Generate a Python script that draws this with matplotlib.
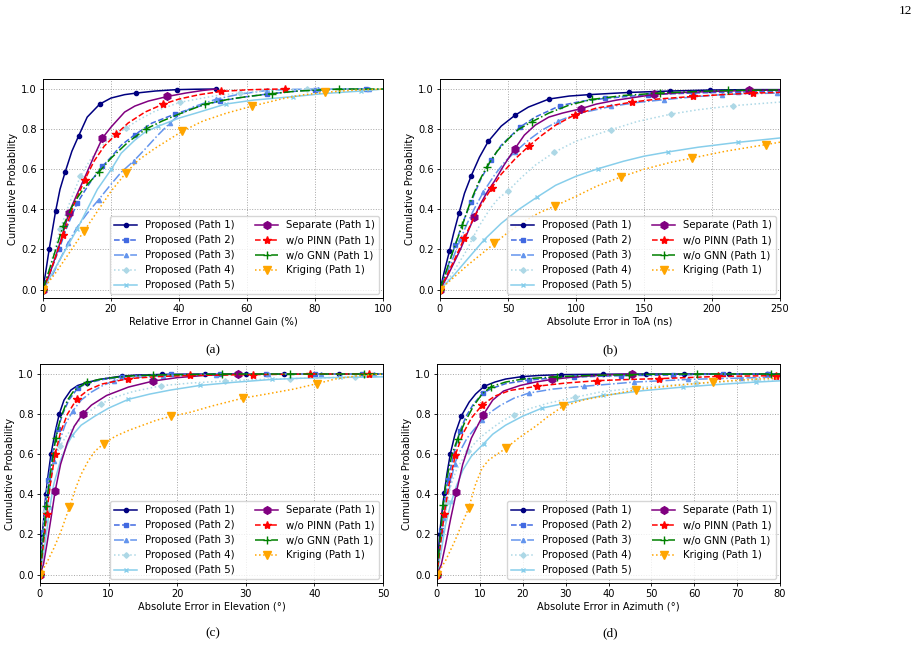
import matplotlib
matplotlib.use("Agg")
import matplotlib.pyplot as plt
from matplotlib.lines import Line2D

plt.rcParams['font.family'] = ['DejaVu Sans']
FS = 7.1
LEG_FS = 7.25

LABELS = ["Proposed (Path 1)", "Proposed (Path 2)", "Proposed (Path 3)",
          "Proposed (Path 4)", "Proposed (Path 5)", "Separate (Path 1)",
          "w/o PINN (Path 1)", "w/o GNN (Path 1)", "Kriging (Path 1)"]

# ---------------- panel (a): relative error in channel gain (%) ----------------
A_P1 = ([0, 1.0, 1.8, 2.8, 3.7, 5.0, 6.5, 8.5, 10.5, 13.0, 16.7, 20.0, 24.0, 27.5, 33.0, 39.3, 45.0, 51.0],
        [0, 0.11, 0.20, 0.30, 0.39, 0.50, 0.585, 0.69, 0.767, 0.86, 0.925, 0.955, 0.972, 0.98, 0.99, 0.997, 0.999, 1.0])
A_P1_MK = ([0, 1.8, 3.7, 6.5, 10.5, 16.7, 27.5, 39.3, 51.0], [0, 0.2, 0.39, 0.585, 0.767, 0.925, 0.98, 0.997, 1.0])
A_P2 = ([0, 2, 4.7, 7, 10, 12, 14.5, 17.5, 20, 23, 27, 32, 38.8, 45, 52, 59, 66, 73, 80, 88, 95],
        [0, 0.08, 0.2, 0.31, 0.43, 0.485, 0.55, 0.615, 0.66, 0.72, 0.772, 0.83, 0.875, 0.91, 0.94, 0.96, 0.975, 0.987, 0.997, 0.999, 1.0])
A_P2_MK = ([0, 4.7, 10, 17.5, 27, 38.8, 52, 66, 80, 95], [0, 0.2, 0.43, 0.615, 0.772, 0.875, 0.94, 0.975, 0.997, 1.0])
A_P3 = ([0, 3, 5, 7.4, 10, 13, 16.4, 20, 23, 26.8, 30, 33.5, 37.3, 40, 44, 51, 58, 66, 73, 81, 90, 96],
        [0, 0.08, 0.15, 0.233, 0.31, 0.38, 0.449, 0.525, 0.585, 0.643, 0.7, 0.765, 0.83, 0.87, 0.91, 0.95, 0.975, 0.993, 0.998, 1.0, 1.0, 1.0])
A_P3_MK = ([0, 7.4, 16.4, 26.8, 37.3, 51, 66, 81, 96], [0, 0.233, 0.449, 0.643, 0.83, 0.95, 0.993, 1.0, 1.0])
A_P4 = ([0, 2, 5, 8, 11, 14, 17, 20, 24.4, 28, 33, 40.3, 47, 52, 58, 65, 71, 77.6, 85, 90],
        [0, 0.11, 0.3, 0.44, 0.565, 0.65, 0.71, 0.76, 0.805, 0.845, 0.89, 0.934, 0.955, 0.97, 0.98, 0.99, 0.996, 1.0, 1.0, 1.0])
A_P4_MK = ([0, 5, 11, 24.4, 40.3, 58, 77.6], [0, 0.3, 0.565, 0.805, 0.934, 0.98, 1.0])
A_P5 = ([0, 3, 6, 10, 13, 16, 20.1, 23, 27, 30, 33.8, 40, 45, 53.7, 62, 73.5, 83, 93.5, 100],
        [0, 0.09, 0.18, 0.3, 0.4, 0.5, 0.6, 0.68, 0.745, 0.785, 0.814, 0.855, 0.88, 0.925, 0.945, 0.962, 0.978, 0.99, 1.0])
A_P5_MK = ([0, 10, 20.1, 33.8, 53.7, 73.5, 93.5], [0, 0.3, 0.6, 0.814, 0.925, 0.962, 0.99])
A_SEP = ([0, 2, 4, 5.5, 7.6, 10, 12.7, 15, 17.5, 20, 24, 27, 31, 36.6, 42, 47, 51],
         [0, 0.08, 0.18, 0.26, 0.382, 0.475, 0.575, 0.665, 0.756, 0.81, 0.885, 0.915, 0.94, 0.963, 0.98, 0.993, 1.0])
A_SEP_MK = ([0, 7.6, 17.5, 36.6], [0, 0.382, 0.756, 0.963])
A_PINN = ([0, 3, 6, 9, 12.3, 15, 18, 21.6, 25, 30, 35.4, 40, 46, 52.4, 60, 66, 71.2],
          [0, 0.13, 0.274, 0.42, 0.548, 0.64, 0.715, 0.776, 0.83, 0.885, 0.925, 0.95, 0.972, 0.988, 0.996, 0.999, 1.0])
A_PINN_MK = ([0, 6, 12.3, 21.6, 35.4, 52.4, 71.2], [0, 0.274, 0.548, 0.776, 0.925, 0.988, 1.0])
A_GNN = ([0, 3, 5.9, 9, 12, 16.4, 20, 25, 30.2, 35, 40, 47.7, 55, 60, 67.3, 75, 87.2, 100],
         [0, 0.16, 0.316, 0.43, 0.505, 0.585, 0.655, 0.735, 0.8, 0.84, 0.875, 0.925, 0.95, 0.962, 0.977, 0.99, 1.0, 1.0])
A_GNN_MK = ([0, 5.9, 16.4, 30.2, 47.7, 67.3, 87.2], [0, 0.316, 0.585, 0.8, 0.925, 0.977, 1.0])
A_KRG = ([0, 4, 8, 12, 16, 20, 24.3, 28, 33, 41, 47, 54, 61.4, 70, 76, 82.8, 90, 100],
         [0, 0.09, 0.19, 0.29, 0.39, 0.49, 0.58, 0.645, 0.705, 0.79, 0.84, 0.88, 0.914, 0.95, 0.97, 0.983, 0.993, 1.0])
A_KRG_MK = ([0, 12, 24.3, 41, 61.4, 82.8], [0, 0.29, 0.58, 0.79, 0.914, 0.983])

# ---------------- panel (b): absolute error in ToA (ns) ----------------
B_P1 = ([0, 3, 6.9, 10, 14, 18, 23, 29, 35.5, 45, 55.1, 65, 80.1, 95, 109.6, 139, 169, 198.5, 228, 250],
        [0, 0.085, 0.191, 0.28, 0.382, 0.48, 0.568, 0.66, 0.739, 0.815, 0.869, 0.91, 0.95, 0.965, 0.972, 0.983, 0.99, 0.995, 0.997, 0.997])
B_P1_MK = ([0, 6.9, 14, 23, 35.5, 55.1, 80.1, 109.6, 139, 169, 198.5, 228],
           [0, 0.191, 0.382, 0.568, 0.739, 0.869, 0.95, 0.972, 0.983, 0.99, 0.995, 0.997])
B_P2 = ([0, 5, 11, 16, 22.8, 30, 37.5, 45, 58.8, 70, 88.2, 105, 121, 153, 186, 219, 250],
        [0, 0.1, 0.22, 0.32, 0.437, 0.55, 0.644, 0.72, 0.81, 0.86, 0.917, 0.94, 0.953, 0.972, 0.98, 0.985, 0.988])
B_P2_MK = ([0, 11, 22.8, 37.5, 58.8, 88.2, 121, 153, 186, 219], [0, 0.22, 0.437, 0.644, 0.81, 0.917, 0.953, 0.972, 0.98, 0.985])
B_P3 = ([0, 5, 10, 15, 20, 25, 31.9, 40, 48, 55, 65, 75, 87, 100, 125.5, 145, 165, 185, 207, 228, 250],
        [0, 0.08, 0.165, 0.25, 0.33, 0.4, 0.487, 0.57, 0.64, 0.685, 0.745, 0.795, 0.84, 0.875, 0.913, 0.933, 0.947, 0.96, 0.972, 0.977, 0.98])
B_P3_MK = ([0, 15, 31.9, 55, 87, 125.5, 165, 207, 248], [0, 0.25, 0.487, 0.685, 0.84, 0.913, 0.947, 0.972, 0.98])
B_P4 = ([0, 5, 10, 15, 20, 24, 30, 37, 43, 50.2, 60, 70, 83.8, 100, 125.7, 145, 169.9, 190, 215.7, 250],
        [0, 0.04, 0.09, 0.145, 0.2, 0.257, 0.33, 0.405, 0.455, 0.493, 0.56, 0.62, 0.684, 0.74, 0.797, 0.838, 0.875, 0.897, 0.917, 0.935])
B_P4_MK = ([0, 24, 50.2, 83.8, 125.7, 169.9, 215.7], [0, 0.257, 0.493, 0.684, 0.797, 0.875, 0.917])
B_P5 = ([0, 10, 20, 32.6, 45, 58, 71.6, 85, 100, 116.4, 135, 150, 167.4, 190, 218.9, 250],
        [0, 0.07, 0.15, 0.249, 0.33, 0.4, 0.462, 0.52, 0.565, 0.603, 0.64, 0.665, 0.686, 0.71, 0.734, 0.756])
B_P5_MK = ([0, 32.6, 71.6, 116.4, 167.4, 218.9], [0, 0.249, 0.462, 0.603, 0.686, 0.734])
B_SEP = ([0, 5, 10, 15, 20, 25.2, 30, 35, 40, 47, 55.1, 62, 70, 80, 90, 103.7, 115, 130, 157.6, 180, 200, 227, 250],
         [0, 0.06, 0.13, 0.2, 0.28, 0.362, 0.43, 0.49, 0.54, 0.62, 0.703, 0.77, 0.82, 0.86, 0.88, 0.902, 0.925, 0.945, 0.973, 0.983, 0.988, 0.993, 0.995])
B_SEP_MK = ([0, 25.2, 55.1, 103.7, 157.6, 227], [0, 0.362, 0.703, 0.902, 0.973, 0.993])
B_PINN = ([0, 5, 10, 17.9, 25, 30, 38, 45, 55, 65.7, 75, 85, 99.3, 115, 141.4, 160, 185.8, 210, 230.4, 250],
          [0, 0.07, 0.14, 0.257, 0.36, 0.42, 0.507, 0.575, 0.65, 0.718, 0.77, 0.82, 0.872, 0.905, 0.935, 0.95, 0.963, 0.973, 0.98, 0.983])
B_PINN_MK = ([0, 17.9, 38, 65.7, 99.3, 141.4, 185.8, 230.4], [0, 0.257, 0.507, 0.718, 0.872, 0.935, 0.963, 0.98])
B_GNN = ([0, 5, 10, 16.4, 22, 28, 34.3, 42, 50, 58, 67.4, 80, 95, 111.5, 135, 161.8, 190, 212, 250],
         [0, 0.1, 0.2, 0.32, 0.43, 0.53, 0.611, 0.69, 0.75, 0.8, 0.836, 0.88, 0.92, 0.948, 0.968, 0.98, 0.988, 0.993, 0.995])
B_GNN_MK = ([0, 16.4, 34.3, 67.4, 111.5, 161.8, 212], [0, 0.32, 0.611, 0.836, 0.948, 0.98, 0.993])
B_KRG = ([0, 10, 20, 30, 40, 50, 62, 72, 84.6, 100, 115, 132.8, 150, 170, 185.5, 210, 239.7, 250],
         [0, 0.06, 0.12, 0.175, 0.23, 0.285, 0.34, 0.38, 0.417, 0.465, 0.515, 0.561, 0.6, 0.635, 0.656, 0.69, 0.723, 0.735])
B_KRG_MK = ([0, 40, 84.6, 132.8, 185.5, 239.7], [0, 0.23, 0.417, 0.561, 0.656, 0.723])

# ---------------- panel (c): absolute error in elevation (deg) ----------------
C_P1 = ([0, 0.34, 0.85, 1.2, 1.6, 2.2, 2.8, 3.5, 4.5, 5.5, 6.8, 8.5, 10, 12, 14, 17.8, 24, 50],
        [0, 0.2, 0.4, 0.5, 0.6, 0.71, 0.8, 0.87, 0.92, 0.943, 0.957, 0.972, 0.98, 0.99, 0.995, 0.998, 1.0, 1.0])
C_P1_MK = ([0, 0.34, 0.85, 1.6, 2.8, 6.8, 12, 17.8, 24, 30, 35.5, 43.6],
           [0, 0.2, 0.4, 0.6, 0.8, 0.957, 0.99, 0.998, 1, 1, 1, 1])
C_P2 = ([0, 0.45, 1.0, 1.5, 2.0, 2.58, 3.3, 4.2, 5.5, 7, 9, 12, 15, 19.1, 26, 50],
        [0, 0.21, 0.42, 0.54, 0.64, 0.726, 0.8, 0.87, 0.93, 0.955, 0.972, 0.985, 0.993, 0.998, 1.0, 1.0])
C_P2_MK = ([0, 0.45, 1.2, 2.58, 5.5, 12, 19.1, 26.3, 33, 40.1, 47], [0, 0.21, 0.47, 0.726, 0.93, 0.985, 0.998, 1, 1, 1, 1])
C_P3 = ([0, 0.4, 0.8, 1.4, 2, 2.8, 3.7, 4.8, 6, 7.5, 9, 10.8, 13, 16, 20, 25, 30, 50],
        [0, 0.14, 0.27, 0.43, 0.565, 0.66, 0.75, 0.817, 0.87, 0.91, 0.94, 0.967, 0.98, 0.988, 0.993, 0.997, 1.0, 1.0])
C_P3_MK = ([0, 0.8, 2, 4.8, 10.8, 18, 25.6, 33.3, 41, 48.7], [0, 0.27, 0.565, 0.817, 0.967, 0.991, 0.997, 1, 1, 1])
C_P4 = ([0, 0.3, 0.7, 1.1, 1.8, 2.9, 4, 5.5, 7, 8.9, 11, 13.5, 17.7, 22, 26.9, 31, 36.4, 41, 45.9, 50],
        [0, 0.15, 0.31, 0.44, 0.55, 0.64, 0.7, 0.76, 0.81, 0.852, 0.885, 0.912, 0.942, 0.955, 0.965, 0.972, 0.977, 0.981, 0.985, 0.988])
C_P4_MK = ([0, 0.7, 2.9, 8.9, 17.7, 26.9, 36.4, 45.9], [0, 0.31, 0.64, 0.852, 0.942, 0.965, 0.977, 0.985])
C_P5 = ([0, 0.5, 1, 1.4, 2, 3, 4, 4.7, 6, 8, 10, 12.9, 16, 19, 23.3, 28, 33.8, 38, 43.8, 50],
        [0, 0.1, 0.22, 0.33, 0.45, 0.57, 0.65, 0.694, 0.745, 0.79, 0.83, 0.874, 0.9, 0.92, 0.943, 0.958, 0.973, 0.979, 0.983, 0.986])
C_P5_MK = ([0, 1.4, 4.7, 12.9, 23.3, 33.8, 43.8], [0, 0.33, 0.694, 0.874, 0.943, 0.973, 0.983])
C_SEP = ([0, 0.5, 1, 1.6, 2.2, 3, 4, 5, 6.2, 7.5, 9.7, 12.9, 16.5, 20, 24, 28.8],
         [0, 0.05, 0.15, 0.28, 0.415, 0.55, 0.66, 0.74, 0.8, 0.845, 0.893, 0.935, 0.965, 0.982, 0.993, 1.0])
C_SEP_MK = ([0, 2.2, 6.2, 16.5, 28.8], [0, 0.415, 0.8, 0.965, 1.0])
C_PINN = ([0, 0.4, 0.97, 1.5, 2.2, 3, 4, 5.35, 7, 9, 12.9, 17, 21.8, 31, 39.4, 47.9],
          [0, 0.12, 0.302, 0.45, 0.601, 0.71, 0.8, 0.875, 0.92, 0.95, 0.977, 0.987, 0.993, 0.997, 1.0, 1.0])
C_PINN_MK = ([0, 0.97, 2.2, 5.35, 12.9, 21.8, 31, 39.4, 47.9], [0, 0.302, 0.601, 0.875, 0.977, 0.993, 0.997, 1.0, 1.0])
C_GNN = ([0, 0.4, 0.9, 1.5, 2.3, 3, 4, 5, 6.8, 8.5, 10, 13, 16.5, 26.5, 50],
         [0, 0.15, 0.34, 0.5, 0.68, 0.78, 0.87, 0.92, 0.958, 0.972, 0.98, 0.99, 0.995, 1.0, 1.0])
C_GNN_MK = ([0, 0.9, 2.3, 6.8, 16.5, 26.5, 36.5, 47.2], [0, 0.34, 0.68, 0.958, 0.995, 1, 1, 1])
C_KRG = ([0, 1, 2, 3, 4.3, 5.2, 6, 7, 8, 9.3, 11, 13, 15, 17, 19.1, 22, 25, 29.6, 33, 37, 40.4, 43, 46, 50],
         [0, 0.06, 0.13, 0.21, 0.337, 0.43, 0.5, 0.565, 0.615, 0.653, 0.69, 0.72, 0.745, 0.77, 0.789, 0.81, 0.84, 0.88, 0.9, 0.925, 0.952, 0.975, 0.99, 1.0])
C_KRG_MK = ([0, 4.3, 9.3, 19.1, 29.6, 40.4], [0, 0.337, 0.653, 0.789, 0.88, 0.952])

# ---------------- panel (d): absolute error in azimuth (deg) ----------------
D_P1 = ([0, 0.6, 1.1, 1.7, 2.3, 3.1, 4.2, 5.7, 7.5, 9, 11, 13.5, 16, 19.8, 24, 28.9, 38.8, 48.7, 80],
        [0, 0.2, 0.3, 0.407, 0.5, 0.601, 0.7, 0.792, 0.86, 0.9, 0.939, 0.96, 0.975, 0.987, 0.993, 0.997, 0.999, 1.0, 1.0])
D_P1_MK = ([0, 0.6, 1.7, 3.1, 5.7, 11, 19.8, 28.9, 38.8, 48.7, 57.7, 68.2, 76.9],
           [0, 0.2, 0.407, 0.601, 0.792, 0.939, 0.987, 0.997, 0.999, 1, 1, 1, 1])
D_P2 = ([0, 1, 2, 2.6, 3.9, 5.3, 6.8, 8.5, 10.7, 13, 16, 21.4, 26, 32, 43, 55, 66.6, 80],
        [0, 0.22, 0.4, 0.47, 0.6, 0.714, 0.79, 0.85, 0.905, 0.93, 0.952, 0.97, 0.978, 0.985, 0.992, 0.995, 1.0, 1.0])
D_P2_MK = ([0, 1, 2.6, 5.3, 10.7, 21.4, 32, 43, 55, 66.6, 77.2], [0, 0.22, 0.47, 0.714, 0.905, 0.97, 0.985, 0.992, 0.995, 1, 1])
D_P3 = ([0, 0.8, 1.6, 2.9, 4.1, 5.5, 7, 8.5, 10.5, 12.5, 14.8, 18, 21.4, 27, 34.3, 40, 46, 52, 58.6, 65, 71, 80],
        [0, 0.15, 0.28, 0.43, 0.553, 0.62, 0.68, 0.72, 0.77, 0.81, 0.844, 0.88, 0.905, 0.925, 0.939, 0.949, 0.96, 0.966, 0.973, 0.977, 0.98, 0.985])
D_P3_MK = ([0, 1.6, 4.1, 10.5, 21.4, 34.3, 46, 58.6, 71], [0, 0.28, 0.553, 0.77, 0.905, 0.939, 0.96, 0.973, 0.98])
D_P4 = ([0, 0.8, 1.5, 2.3, 3.3, 4.5, 5.8, 7.2, 9, 11, 13.5, 15.5, 18, 22, 26, 32.2, 38, 46, 53, 60.5, 68, 74.5, 80],
        [0, 0.1, 0.22, 0.36, 0.45, 0.52, 0.57, 0.615, 0.66, 0.7, 0.74, 0.77, 0.797, 0.83, 0.855, 0.884, 0.91, 0.93, 0.943, 0.953, 0.962, 0.968, 0.972])
D_P4_MK = ([0, 2.3, 7.2, 18, 32.2, 46, 60.5, 74.5], [0, 0.36, 0.615, 0.797, 0.884, 0.93, 0.953, 0.968])
D_P5 = ([0, 1, 2, 3.3, 4.5, 6, 8, 10.9, 13, 16, 20, 24.5, 30, 35, 38.7, 48, 57.4, 65, 74.5, 80],
        [0, 0.12, 0.25, 0.36, 0.44, 0.52, 0.59, 0.653, 0.7, 0.745, 0.79, 0.83, 0.855, 0.877, 0.893, 0.917, 0.935, 0.947, 0.96, 0.966])
D_P5_MK = ([0, 3.3, 10.9, 24.5, 38.7, 57.4, 74.5], [0, 0.36, 0.653, 0.83, 0.893, 0.935, 0.96])
D_SEP = ([0, 1, 2, 3.2, 4.5, 6, 8, 10.7, 13, 15.5, 19.4, 23, 26.8, 31, 35, 40, 45.5],
         [0, 0.05, 0.15, 0.28, 0.41, 0.55, 0.68, 0.794, 0.87, 0.915, 0.943, 0.96, 0.973, 0.983, 0.99, 0.996, 1.0])
D_SEP_MK = ([0, 4.5, 10.7, 26.8, 45.5], [0, 0.41, 0.794, 0.973, 1.0])
D_PINN = ([0, 0.8, 1.7, 2.8, 4.3, 6, 8, 10.6, 13.5, 17, 23.3, 30, 37.4, 45, 51.7, 58, 65.6, 72, 80],
          [0, 0.15, 0.302, 0.45, 0.598, 0.7, 0.78, 0.847, 0.89, 0.918, 0.939, 0.955, 0.967, 0.973, 0.977, 0.982, 0.988, 0.99, 0.992])
D_PINN_MK = ([0, 1.7, 4.3, 10.6, 23.3, 37.4, 51.7, 65.6, 79], [0, 0.302, 0.598, 0.847, 0.939, 0.967, 0.977, 0.988, 0.992])
D_GNN = ([0, 0.6, 1.4, 2.2, 3.5, 4.8, 6.5, 8.5, 10.5, 12.6, 16, 20, 28, 36, 44.7, 52, 60.6, 80],
         [0, 0.15, 0.345, 0.47, 0.6, 0.677, 0.76, 0.84, 0.9, 0.937, 0.96, 0.975, 0.987, 0.993, 0.997, 0.999, 1.0, 1.0])
D_GNN_MK = ([0, 1.4, 4.8, 12.6, 28, 44.7, 60.6, 78], [0, 0.345, 0.677, 0.937, 0.987, 0.997, 1.0, 1.0])
D_KRG = ([0, 2, 4, 6, 7.4, 9, 10.5, 12, 14, 16.1, 19, 23.3, 26, 29.4, 34, 40, 46.5, 55, 64.4, 72, 80],
         [0, 0.07, 0.16, 0.26, 0.333, 0.45, 0.53, 0.57, 0.6, 0.63, 0.68, 0.744, 0.79, 0.839, 0.87, 0.895, 0.922, 0.942, 0.96, 0.972, 0.98])
D_KRG_MK = ([0, 7.4, 16.1, 29.4, 46.5, 64.4], [0, 0.333, 0.63, 0.839, 0.922, 0.96])

PANELS = [
    dict(series=[(A_P1, A_P1_MK), (A_P2, A_P2_MK), (A_P3, A_P3_MK), (A_P4, A_P4_MK), (A_P5, A_P5_MK),
                 (A_SEP, A_SEP_MK), (A_PINN, A_PINN_MK), (A_GNN, A_GNN_MK), (A_KRG, A_KRG_MK)],
         xlabel="Relative Error in Channel Gain (%)", xmax=100, step=20, tag="(a)"),
    dict(series=[(B_P1, B_P1_MK), (B_P2, B_P2_MK), (B_P3, B_P3_MK), (B_P4, B_P4_MK), (B_P5, B_P5_MK),
                 (B_SEP, B_SEP_MK), (B_PINN, B_PINN_MK), (B_GNN, B_GNN_MK), (B_KRG, B_KRG_MK)],
         xlabel="Absolute Error in ToA (ns)", xmax=250, step=50, tag="(b)"),
    dict(series=[(C_P1, C_P1_MK), (C_P2, C_P2_MK), (C_P3, C_P3_MK), (C_P4, C_P4_MK), (C_P5, C_P5_MK),
                 (C_SEP, C_SEP_MK), (C_PINN, C_PINN_MK), (C_GNN, C_GNN_MK), (C_KRG, C_KRG_MK)],
         xlabel="Absolute Error in Elevation (°)", xmax=50, step=10, tag="(c)"),
    dict(series=[(D_P1, D_P1_MK), (D_P2, D_P2_MK), (D_P3, D_P3_MK), (D_P4, D_P4_MK), (D_P5, D_P5_MK),
                 (D_SEP, D_SEP_MK), (D_PINN, D_PINN_MK), (D_GNN, D_GNN_MK), (D_KRG, D_KRG_MK)],
         xlabel="Absolute Error in Azimuth (°)", xmax=80, step=10, tag="(d)"),
]

STYLES = [
    dict(color='navy', ls='-', marker='o', ms=3.0),
    dict(color='royalblue', ls='--', marker='s', ms=3.0),
    dict(color='cornflowerblue', ls='-.', marker='^', ms=3.0),
    dict(color='lightblue', ls=':', marker='D', ms=2.8),
    dict(color='skyblue', ls='-', marker='x', ms=3.0),
    dict(color='purple', ls='-', marker='h', ms=5.5),
    dict(color='red', ls='--', marker='*', ms=6.0),
    dict(color='green', ls='-.', marker='+', ms=6.0),
    dict(color='orange', ls=':', marker='v', ms=5.5),
]
LW = 1.1

# axes rectangles in pixels (left, top, right, bottom) of a 920x647 figure
W, H = 920, 647
RECTS = [(43, 79, 383, 298), (440, 79, 780, 298), (40, 364, 383, 583), (437, 364, 780, 583)]
CAPTION_POS = [(213, 350), (610, 350), (213, 633), (610, 633)]

fig = plt.figure(figsize=(W / 100, H / 100), dpi=100)

for panel, (l, t, r, b), (cx, cy) in zip(PANELS, RECTS, CAPTION_POS):
    ax = fig.add_axes([l / W, 1 - b / H, (r - l) / W, (b - t) / H])
    handles = []
    for ((xs, ys), (mx, my)), st, lab in zip(panel["series"], STYLES, LABELS):
        ax.plot(xs, ys, color=st['color'], ls=st['ls'], lw=LW)
        ax.plot(mx, my, color=st['color'], ls='none', marker=st['marker'], ms=st['ms'], mew=1.0)
        handles.append(Line2D([], [], color=st['color'], ls=st['ls'], lw=LW,
                              marker=st['marker'], ms=st['ms'], mew=1.0, label=lab))
    ax.set_xlim(0, panel["xmax"])
    ax.set_ylim(-0.042, 1.05)
    ax.set_xticks(list(range(0, panel["xmax"] + 1, panel["step"])))
    ax.set_yticks([0.0, 0.2, 0.4, 0.6, 0.8, 1.0])
    ax.set_yticklabels(["0.0", "0.2", "0.4", "0.6", "0.8", "1.0"])
    ax.grid(True, ls=':', lw=0.7, color='0.65')
    ax.tick_params(labelsize=FS, length=2.5, width=0.6, pad=2)
    for s in ax.spines.values():
        s.set_linewidth(0.7)
    ax.set_xlabel(panel["xlabel"], fontsize=FS, labelpad=1.5)
    ax.set_ylabel("Cumulative Probability", fontsize=FS, labelpad=2)
    ax.legend(handles=handles, loc='lower right', ncol=2, fontsize=LEG_FS,
              handlelength=2.3, columnspacing=2.0, borderaxespad=0.35, labelspacing=0.5)
    fig.text(cx / W, 1 - cy / H, panel["tag"], ha='center', va='center',
             family='Liberation Serif', fontsize=9.5)

fig.text(905 / W, 1 - 11 / H, "12", ha='center', va='center', family='Liberation Serif', fontsize=9.5)

fig.savefig("out.png", dpi=100)
